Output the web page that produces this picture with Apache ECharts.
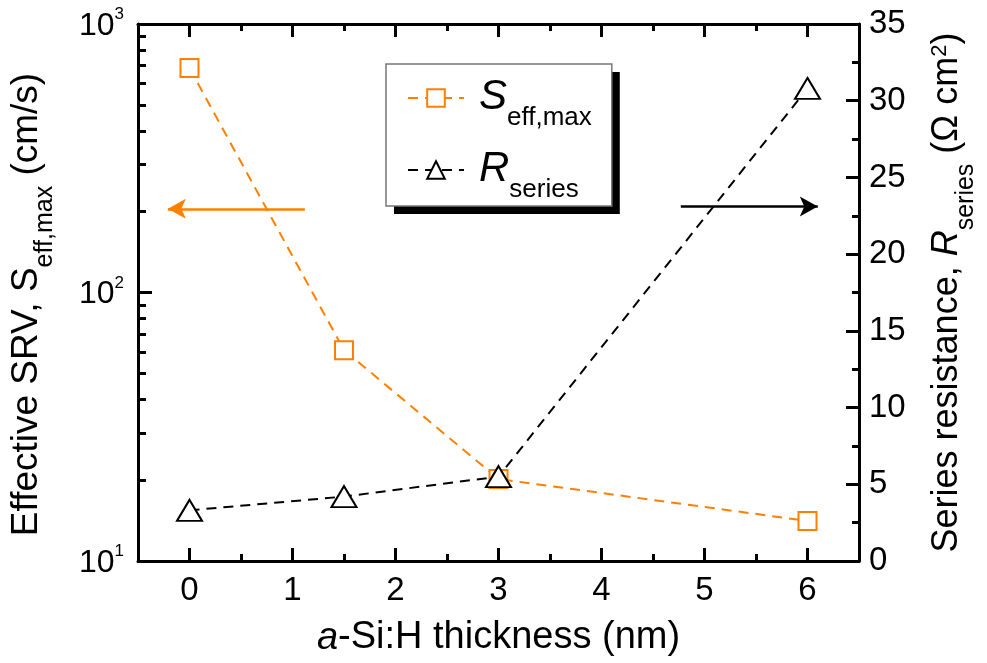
<!DOCTYPE html>
<html><head><meta charset="utf-8">
<script src="https://cdn.jsdelivr.net/npm/echarts@6/dist/echarts.min.js"></script>
<style>html,body{margin:0;padding:0;background:#fff}#c{width:987px;height:663px}</style>
</head><body><div id="c"></div>
<script>
// data
var thickness = [0, 1.5, 3, 6];
var seffMax = [685, 61, 20.2, 14.1];
var rSeries = [3.3, 4.2, 5.5, 30.8];
var xTicks = [0, 1, 2, 3, 4, 5, 6];
var xMinorTicks = [0.5, 1.5, 2.5, 3.5, 4.5, 5.5];
var leftTicks = [10, 100, 1000];
var leftMinorTicks = [20,30,40,50,60,70,80,90,200,300,400,500,600,700,800,900];
var leftArrow = [[1.12, 205], [-0.21, 205]];
var rightArrow = [[4.77, 23.1], [6.1, 23.1]];

var FONT = 'Liberation Sans';
var ORANGE = '#FF8000';
var chart = echarts.init(document.getElementById('c'));

function pair(xs, ys){ return xs.map(function(x,i){return [x, ys[i]];}); }

var frameLine = {show:true, onZero:false, lineStyle:{color:'#000', width:3}};
var noLine = {show:false, onZero:false};
function tick(len, vals){ var t={show:true, inside:true, length:len, lineStyle:{color:'#000', width:3}}; if(vals) t.customValues = vals; return t; }

function titleRich(fs){
  return {
    m:{fontFamily:FONT, fontSize:fs, color:'#000', lineHeight:44, verticalAlign:'top'},
    i:{fontFamily:FONT, fontSize:fs, fontStyle:'italic', color:'#000', lineHeight:44, verticalAlign:'top'},
    sub:{fontFamily:FONT, fontSize:25, color:'#000', lineHeight:25, padding:[25,0,0,0], verticalAlign:'top'},
    sup:{fontFamily:FONT, fontSize:22, color:'#000', lineHeight:22, verticalAlign:'top'}
  };
}

var legendRich = {
  i:{fontFamily:FONT, fontStyle:'italic', fontSize:42, color:'#000', lineHeight:44, verticalAlign:'top'},
  sub:{fontFamily:FONT, fontSize:26, color:'#000', lineHeight:26, padding:[29,0,0,0], verticalAlign:'top'}
};
var legendRichHidden = {
  i:Object.assign({}, legendRich.i, {color:'rgba(0,0,0,0)'}),
  sub:Object.assign({}, legendRich.sub, {color:'rgba(0,0,0,0)'})
};
function legendFmt(n){ return n==='S' ? '{i|S}{sub|eff,max}' : '{i|R}{sub|series}'; }
var legendBase = {
  orient:'vertical', left:386, top:64,
  padding:[12,20,3,21], itemGap:17, itemWidth:56, itemHeight:22,
  data:['S','R'], formatter:legendFmt, selectedMode:false
};

var option = {
  animation: false,
  backgroundColor: '#fff',
  grid: {left:135, right:124, top:24, bottom:102},
  xAxis: [
    {type:'value', position:'bottom', min:-0.5, max:6.5,
     axisLine: frameLine, axisTick: tick(13, xTicks), splitLine:{show:false},
     axisLabel:{customValues:xTicks, color:'#000', fontFamily:FONT, fontSize:33, margin:13},
     name:'{i|a}{m|-Si:H thickness (nm)}', nameLocation:'middle', nameGap:58,
     nameTextStyle:{color:'#000', fontFamily:FONT, fontSize:38, rich:titleRich(38)}},
    {type:'value', position:'bottom', min:-0.5, max:6.5, axisLine:noLine,
     axisTick: tick(7, xMinorTicks), axisLabel:{show:false}, splitLine:{show:false}},
    {type:'value', position:'top', min:-0.5, max:6.5, axisLine: frameLine,
     axisTick: tick(13, xTicks), axisLabel:{show:false}, splitLine:{show:false}},
    {type:'value', position:'top', min:-0.5, max:6.5, axisLine:noLine,
     axisTick: tick(7, xMinorTicks), axisLabel:{show:false}, splitLine:{show:false}}
  ],
  yAxis: [
    {type:'log', logBase:10, position:'left', min:10, max:1000,
     axisLine: frameLine, axisTick: tick(14, leftTicks), splitLine:{show:false},
     axisLabel:{customValues:leftTicks, color:'#000', fontFamily:FONT, fontSize:32, margin:14,
       formatter:function(v){ return '{b|10}{s|' + Math.round(Math.log10(v)) + '}'; },
       rich:{b:{fontSize:32, fontFamily:FONT, color:'#000', lineHeight:36, verticalAlign:'bottom'},
             s:{fontSize:17, fontFamily:FONT, color:'#000', verticalAlign:'top', lineHeight:17}}},
     name:'{m|Effective SRV, S}{sub|eff,max}{m| (cm/s)}', nameLocation:'middle', nameGap:86, nameRotate:90,
     nameTextStyle:{color:'#000', fontFamily:FONT, fontSize:37, padding:[0,24,0,0], rich:titleRich(37)}},
    {type:'log', logBase:10, position:'left', min:10, max:1000, axisLine:noLine,
     axisTick: tick(8, leftMinorTicks), axisLabel:{show:false}, splitLine:{show:false}},
    {type:'value', position:'right', min:0, max:35, interval:5,
     axisLine: frameLine, axisTick: tick(13), splitLine:{show:false},
     minorTick:{show:true, splitNumber:2, length:7, lineStyle:{color:'#000', width:3}},
     axisLabel:{color:'#000', fontFamily:FONT, fontSize:33, margin:10},
     name:'{m|Series resistance, }{i|R}{sub|series}{m| (\u03A9 cm}{sup|2}{m|)}', nameLocation:'middle', nameGap:70, nameRotate:90,
     nameTextStyle:{color:'#000', fontFamily:FONT, fontSize:36, rich:titleRich(36)}}
  ],
  legend: [
    Object.assign({}, legendBase, {
      backgroundColor:'#fff', borderWidth:0,
      shadowColor:'#000', shadowBlur:0, shadowOffsetX:8, shadowOffsetY:8,
      textStyle:{padding:[0,0,0,10], rich:legendRich}}),
    Object.assign({}, legendBase, {
      backgroundColor:'rgba(0,0,0,0)', borderColor:'#777', borderWidth:1.5,
      itemStyle:{opacity:0}, lineStyle:{opacity:0},
      textStyle:{padding:[0,0,0,10], rich:legendRichHidden}})
  ],
  series: [
    {name:'S', type:'line', xAxisIndex:0, yAxisIndex:0, data:pair(thickness, seffMax),
     symbol:'emptyRect', symbolSize:18, lineStyle:{color:ORANGE, width:2, type:[10,7]},
     itemStyle:{color:ORANGE, borderColor:ORANGE, borderWidth:3.5},
     markLine:{silent:true, symbol:['none','arrow'], symbolSize:[15,18], label:{show:false},
       lineStyle:{color:ORANGE, width:2.5, type:'solid'}, emphasis:{disabled:true},
       data:[[{coord:leftArrow[0]},{coord:leftArrow[1]}]]}},
    {name:'R', type:'line', xAxisIndex:0, yAxisIndex:2, data:pair(thickness, rSeries),
     symbol:'emptyTriangle', symbolSize:[25,21], lineStyle:{color:'#000', width:2, type:[10,7]},
     itemStyle:{color:'#000', borderColor:'#000', borderWidth:3.5},
     markLine:{silent:true, symbol:['none','arrow'], symbolSize:[15,18], label:{show:false},
       lineStyle:{color:'#000', width:2.5, type:'solid'}, emphasis:{disabled:true},
       data:[[{coord:rightArrow[0]},{coord:rightArrow[1]}]]}}
  ]
};
chart.setOption(option);
</script></body></html>
